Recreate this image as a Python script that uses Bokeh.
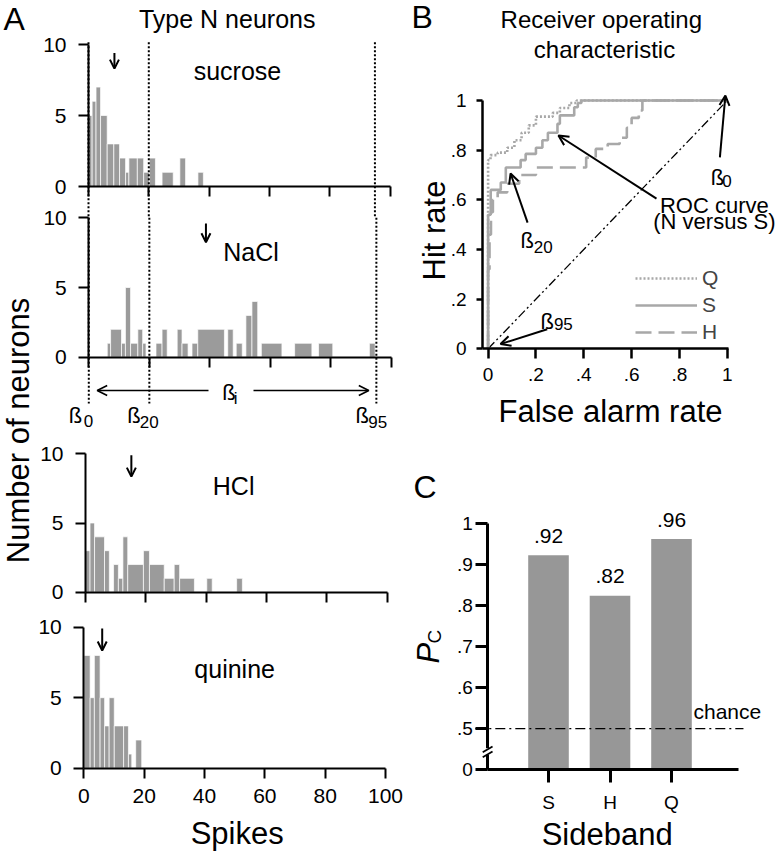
import math
from bokeh.plotting import figure
from bokeh.models import (Range1d, FixedTicker, CustomJSTickFormatter, Label, Arrow,
                          OpenHead, Legend, LegendItem, LinearAxis)
from bokeh.embed import file_html
from bokeh.resources import INLINE

FONT = "Liberation Sans"
BAR_A = "#9b9b9b"
BAR_C = "#979797"
CURVE = "#a8a8a8"
W, H = 776, 853

# ---------------- Panel A: spike-count histograms of type N neurons ----------------
suc_left = [0, 1.2, 2.5, 4.0, 6.2, 8.4, 10.3, 12.3, 13.4, 16.2, 18.3, 20.2, 24.4, 30.3, 36.3]
suc_right = [1.2, 2.5, 4.0, 6.2, 8.4, 10.3, 12.3, 13.4, 16.2, 18.3, 20.2, 22.2, 28.1, 32.2, 38.1]
suc_count = [5, 6, 7, 5, 3, 3, 2, 1, 2, 2, 1, 2, 1, 2, 1]

nacl_left = [6.1, 7.2, 10.8, 12.1, 13.8, 16.2, 17.8, 22.2, 24.2, 29.2, 30.8, 34.1, 36.0, 45.9,
             48.7, 51.9, 53.9, 57.0, 68.0, 75.9, 92.7]
nacl_right = [7.2, 10.8, 12.1, 13.8, 16.2, 17.8, 18.9, 24.2, 25.9, 30.8, 32.8, 36.0, 44.8, 47.7,
              50.7, 53.9, 55.8, 63.8, 73.7, 80.6, 94.6]
nacl_count = [1, 2, 1, 5, 1, 2, 1, 1, 2, 2, 1, 1, 2, 2, 1, 3, 4, 1, 1, 1, 1]

hcl_left = [0, 1.5, 3.0, 6.3, 9.3, 10.9, 12.4, 14.0, 19.2, 21.2, 26.1, 29.4, 31.2, 40.2, 50.1]
hcl_right = [1.5, 3.0, 6.3, 7.9, 10.9, 12.4, 14.0, 19.2, 21.2, 26.1, 29.4, 31.2, 36.1, 42.0, 52.0]
hcl_count = [3, 5, 4, 3, 2, 1, 4, 2, 3, 2, 1, 2, 1, 1, 1]

qui_left = [0, 2.1, 3.5, 5.4, 6.9, 8.4, 10.1, 13.2, 14.8, 17.2]
qui_right = [2.1, 3.5, 5.4, 6.9, 8.4, 10.1, 13.2, 14.8, 15.9, 19.2]
qui_count = [8, 5, 8, 5, 3, 5, 3, 3, 1, 2]

stimuli = ["sucrose", "NaCl", "HCl", "quinine"]
mean_spikes = [8.6, 38.7, 15.2, 6.1]
beta_spikes = [0, 20, 95]
beta_subs = ["0", "20", "95"]
spike_ticks = [0, 20, 40, 60, 80, 100]
count_ticks = [0, 5, 10]

# ---------------- Panel B: ROC curves (false alarm rate, hit rate) ----------------
Q_fa = [0, 0, 0.01, 0.01, 0.04, 0.04, 0.08, 0.08, 0.11, 0.11, 0.14, 0.14, 0.17, 0.17, 0.20, 0.20,
        0.27, 0.27, 0.30, 0.30, 0.34, 0.34, 0.37, 0.37, 1.0]
Q_hr = [0, 0.76, 0.76, 0.78, 0.78, 0.79, 0.79, 0.81, 0.81, 0.84, 0.84, 0.87, 0.87, 0.90, 0.90, 0.935,
        0.935, 0.95, 0.95, 0.97, 0.97, 0.99, 0.99, 1.0, 1.0]
S_fa = [0, 0, 0.011, 0.011, 0.053, 0.053, 0.074, 0.074, 0.136, 0.136, 0.157, 0.157, 0.20, 0.20,
        0.227, 0.227, 0.25, 0.25, 0.29, 0.29, 0.30, 0.30, 0.36, 0.36, 0.375, 0.375, 0.39, 0.39, 1.0]
S_hr = [0, 0.54, 0.54, 0.64, 0.64, 0.67, 0.67, 0.73, 0.73, 0.76, 0.76, 0.785, 0.785, 0.81, 0.81,
        0.84, 0.84, 0.87, 0.87, 0.906, 0.906, 0.94, 0.94, 0.973, 0.973, 0.99, 0.99, 1.0, 1.0]
H_fa = [0, 0, 0.006, 0.006, 0.012, 0.012, 0.02, 0.02, 0.04, 0.04, 0.08, 0.08, 0.13, 0.13, 0.20, 0.20,
        0.41, 0.41, 0.45, 0.45, 0.50, 0.50, 0.55, 0.55, 0.58, 0.58, 0.60, 0.60, 0.63, 0.63, 0.645,
        0.645, 1.0]
H_hr = [0, 0.32, 0.32, 0.46, 0.46, 0.55, 0.55, 0.60, 0.60, 0.63, 0.63, 0.665, 0.665, 0.70, 0.70,
        0.73, 0.73, 0.77, 0.77, 0.805, 0.805, 0.825, 0.825, 0.85, 0.85, 0.89, 0.89, 0.93, 0.93,
        0.96, 0.96, 1.0, 1.0]
chance_fa = [0, 1]
chance_hr = [0, 1]
rate_ticks = [0, 0.2, 0.4, 0.6, 0.8, 1.0]

# ---------------- Panel C: proportion correct per sideband ----------------
sideband = ["S", "H", "Q"]
sideband_pos = [1, 2, 3]
pc = [0.923, 0.824, 0.963]
chance_pc = 0.5
pc_ticks = [0.4, 0.5, 0.6, 0.7, 0.8, 0.9, 1.0]   # 0.4 stands for the broken-axis "0"

# ---------------- one canvas, each panel on its own pair of ranges ----------------
p = figure(width=W, height=H, x_range=Range1d(0, W), y_range=Range1d(0, H),
           output_backend="svg", toolbar_location=None, title=None,
           x_axis_location=None, y_axis_location=None, min_border=0,
           min_border_left=0, min_border_right=0, min_border_top=0, min_border_bottom=0)
p.outline_line_color = None
p.background_fill_color = "white"
p.border_fill_color = "white"
p.xgrid.visible = False
p.ygrid.visible = False
for g in p.grid:
    g.grid_line_color = None


def map_range(d0, s0, d1, s1, size):
    k = (s1 - s0) / (d1 - d0)
    return Range1d(d0 - s0 / k, d0 + (size - s0) / k)


def xmap(d0, px0, d1, px1):          # px measured from the left of the canvas
    return map_range(d0, px0, d1, px1, W)


def ymap(d0, py0, d1, py1):          # py measured from the top of the canvas
    return map_range(d0, H - py0, d1, H - py1, H)


xr, yr = {}, {}
hist_x = {"suc": (88, 389.5), "nacl": (88.3, 391), "hcl": (85, 386.7), "qui": (83.3, 385)}
hist_y = {"suc": (186, 44), "nacl": (356.7, 217.3), "hcl": (591.7, 453.3), "qui": (767.7, 626.7)}
for k in hist_x:
    xr[k + "_x"] = xmap(0, hist_x[k][0], 100, hist_x[k][1])
    yr[k + "_y"] = ymap(0, hist_y[k][0], 10, hist_y[k][1])
xr["roc_x"] = xmap(0, 487.6, 1, 726.8)
yr["roc_y"] = ymap(0, 348.3, 1, 100)
xr["pc_x"] = xmap(1, 548, 3, 671)
yr["pc_y"] = ymap(0.4, 769, 1.0, 523.3)
p.extra_x_ranges = xr
p.extra_y_ranges = yr


def lab(x, y, text, size, rn=None, align="left", angle=0.0, style="normal", y_offset=0):
    kw = {}
    if rn:
        kw = dict(x_range_name=rn + "_x", y_range_name=rn + "_y")
    else:
        y = H - y                      # canvas text given as (x from left, y from top)
    # the rendered alphabetic baseline sits a few px below the anchor: compensate
    off = 0.15 * size + 4.3
    x_off, y_off = (0, y_offset + off) if angle == 0 else (-off, y_offset)
    p.add_layout(Label(x=x, y=y, text=text, text_font=FONT, text_font_size=f"{size}px",
                       text_align=align, text_baseline="alphabetic", angle=angle,
                       text_font_style=style, text_color="black",
                       x_offset=x_off, y_offset=y_off, **kw))


def arrow(x0, y0, x1, y1, rn=None, head=10, dash="solid", width=2.0, color="black"):
    kw = {}
    if rn:
        kw = dict(x_range_name=rn + "_x", y_range_name=rn + "_y")
    else:
        y0, y1 = H - y0, H - y1
    end = OpenHead(size=head, line_width=width, line_color=color) if head else None
    p.add_layout(Arrow(x_start=x0, y_start=y0, x_end=x1, y_end=y1, end=end, start=None,
                       line_width=width, line_color=color, line_dash=dash, **kw))


def axis(rn, side, loc, bounds, ticks, tick_out, width, size, standoff, show=True):
    ax = LinearAxis(x_range_name=rn + "_x", y_range_name=rn + "_y", fixed_location=loc,
                    bounds=bounds, ticker=FixedTicker(ticks=ticks))
    ax.axis_line_width = width
    ax.axis_line_color = "black"
    ax.major_tick_line_width = width
    ax.major_tick_line_color = "black"
    ax.major_tick_in = 0
    ax.major_tick_out = tick_out
    ax.minor_tick_line_color = None
    ax.major_label_text_font = FONT
    ax.major_label_text_font_size = size
    ax.major_label_text_color = "black" if show else None
    ax.major_label_standoff = standoff
    p.add_layout(ax, side)
    return ax


# ---------- panel A ----------
hist_data = [("suc", suc_left, suc_right, suc_count), ("nacl", nacl_left, nacl_right, nacl_count),
             ("hcl", hcl_left, hcl_right, hcl_count), ("qui", qui_left, qui_right, qui_count)]
arrow_tops = [9.4, 9.6, 9.9, 9.9]
arrow_tips = [8.3, 8.25, 8.35, 8.35]
name_pos = [(49.4, 7.6), (53.6, 6.94), (49.1, 7.06), (50.0, 6.45)]
for (rn, l, r, c), m, t0, t1, name, (nx, ny) in zip(hist_data, mean_spikes, arrow_tops,
                                                     arrow_tips, stimuli, name_pos):
    p.quad(left=l, right=r, bottom=0, top=c, fill_color=BAR_A, line_color="white",
           line_width=0.7, x_range_name=rn + "_x", y_range_name=rn + "_y")
    axis(rn, "below", 0, (0, 100), spike_ticks, 10, 2, "21px", 11, show=(rn == "qui"))
    axis(rn, "left", 0, (0, 10), count_ticks, 10, 2, "21px", 12)
    arrow(m, t0, m, t1, rn=rn, head=9)
    lab(nx, ny, name, 25, rn=rn, align="center")

for b in beta_spikes:
    arrow(b, 10.15, b, -2.2, rn="suc", head=None, dash="2 2")
    arrow(b, 10.0, b, -3.32, rn="nacl", head=None, dash="2 2")

beta_lab_x = [68.3, 126.7, 355.0]
beta_sub_x = [83.3, 139.3, 367.7]
beta_sub_y = [427, 428, 428]
for bx, sx, sy, s in zip(beta_lab_x, beta_sub_x, beta_sub_y, beta_subs):
    lab(bx, 423, "ß", 22)
    lab(sx, sy, s, 17)
arrow(208, 390, 96.7, 390, head=10, width=1.6)
arrow(253, 390, 368.3, 390, head=10, width=1.6)
lab(221.7, 400, "ß", 22)
lab(233.3, 405, "i", 17)

lab(3, 28, "A", 32)
lab(226.7, 26.7, "Type N neurons", 25, align="center")
lab(27, 430, "Number of neurons", 31, align="center", angle=math.pi / 2)
lab(236.7, 842, "Spikes", 31, align="center")

# ---------- panel B ----------
fmt_rate = CustomJSTickFormatter(code="""
if (Math.abs(tick) < 1e-9) return "0";
if (Math.abs(tick - 1) < 1e-9) return "1";
return tick.toFixed(1).replace(/^0/, "");
""")
ax = axis("roc", "below", 0, (-0.0234, 1.005), rate_ticks, 10, 2.5, "19px", 9)
ax.formatter = fmt_rate
ax = axis("roc", "left", -0.0234, (0, 1), rate_ticks, 6, 2.5, "19px", 10)
ax.formatter = fmt_rate

rk = dict(x_range_name="roc_x", y_range_name="roc_y")
p.line(chance_fa, chance_hr, line_color="black", line_width=1.3, line_dash="9 3 2 3 2 3", **rk)
rh = p.line(H_fa, H_hr, line_color=CURVE, line_width=2.6, line_dash="16 7", **rk)
rs = p.line(S_fa, S_hr, line_color=CURVE, line_width=2.6, **rk)
rq = p.line(Q_fa, Q_hr, line_color=CURVE, line_width=2.6, line_dash="2 2", **rk)
leg = Legend(items=[LegendItem(label="Q", renderers=[rq]), LegendItem(label="S", renderers=[rs]),
                    LegendItem(label="H", renderers=[rh])],
             location=(635, 509), glyph_width=62, glyph_height=22, label_height=22, spacing=3,
             padding=0, margin=0, label_standoff=5, border_line_color=None,
             background_fill_alpha=0, label_text_font=FONT, label_text_font_size="21px")
p.add_layout(leg)

lab(411, 26, "B", 32)
lab(600.8, 26.7, "Receiver operating", 24, align="center")
lab(604, 56.7, "characteristic", 24, align="center")
lab(443, 230, "Hit rate", 31, align="center", angle=math.pi / 2)
lab(610, 420, "False alarm rate", 31, align="center")
lab(0.931, 0.658, "ß", 22, rn="roc")
lab(0.979, 0.649, "0", 17, rn="roc")
lab(0.946, 0.547, "ROC curve", 22, rn="roc", align="center")
lab(0.946, 0.482, "(N versus S)", 22, rn="roc", align="center")
lab(0.135, 0.407, "ß", 22, rn="roc")
lab(0.191, 0.383, "20", 17, rn="roc")
lab(0.219, 0.081, "ß", 22, rn="roc")
lab(0.275, 0.073, "95", 17, rn="roc")
arrow(0.969, 0.771, 0.992, 1.02, rn="roc", head=10)
arrow(0.704, 0.605, 0.294, 0.859, rn="roc", head=10)
arrow(0.165, 0.508, 0.094, 0.706, rn="roc", head=10)
arrow(0.247, 0.079, 0.052, 0.019, rn="roc", head=10)

# ---------- panel C ----------
ax = axis("pc", "below", 0.4, (0.013, 4.094), sideband_pos, 13, 3, "19px", 9)
ax.major_label_overrides = {pos: name for pos, name in zip(sideband_pos, sideband)}
ax = axis("pc", "left", 0.013, (0.4, 1.0), pc_ticks, 12, 3, "19px", 3)
ax.formatter = CustomJSTickFormatter(code="""
if (Math.abs(tick - 0.4) < 1e-9) return "0";
if (Math.abs(tick - 1) < 1e-9) return "1";
return tick.toFixed(1).replace(/^0/, "");
""")
p.vbar(x=sideband_pos, top=pc, bottom=pc_ticks[0], width=0.66, fill_color=BAR_C,
       line_color=None, x_range_name="pc_x", y_range_name="pc_y")
for x, v in zip(sideband_pos, pc):
    lab(x, v, "." + str(round(v * 100)), 21, rn="pc", align="center", y_offset=12)
arrow(-0.19, chance_pc, 4.17, chance_pc, rn="pc", head=None, dash="10 4 2 4", width=1.3)
lab(693, 718.3, "chance", 21)
lab(606.7, 843, "Sideband", 31, align="center")
lab(413, 496, "C", 32)
lab(437, 663, "P", 31, angle=math.pi / 2, style="italic")
lab(441, 643, "C", 19, angle=math.pi / 2)
# axis break marks
arrow(0.013, 0.436, 0.013, 0.452, rn="pc", head=None, width=5, color="white")
arrow(-0.07, 0.442, 0.09, 0.456, rn="pc", head=None, width=1.8)
arrow(-0.07, 0.430, 0.09, 0.444, rn="pc", head=None, width=1.8)

open("out.html", "w").write(file_html(p, INLINE))
